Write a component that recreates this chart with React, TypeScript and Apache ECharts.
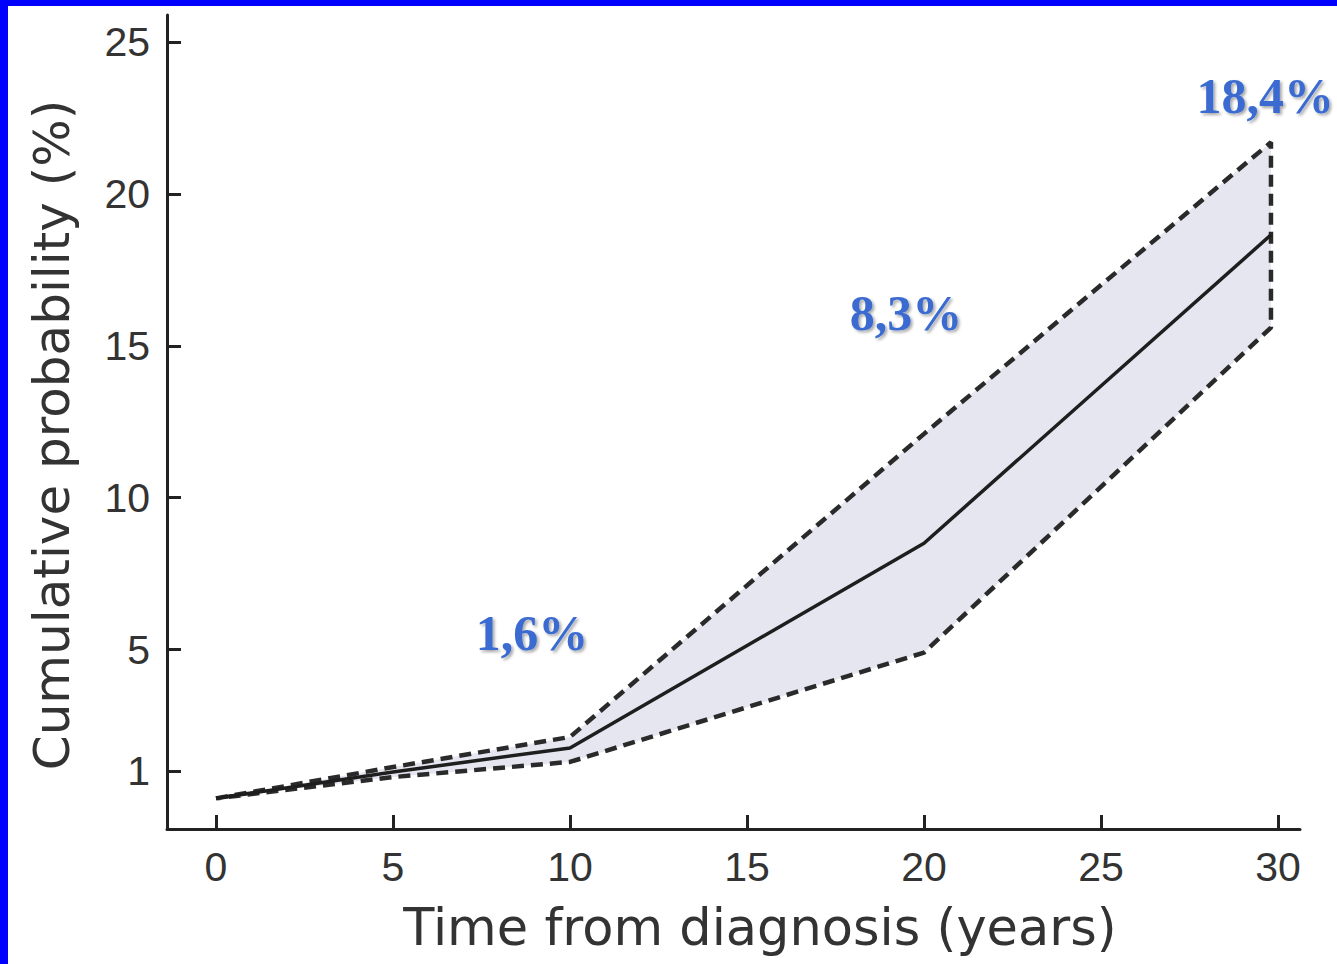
import React, { useEffect, useRef } from "react";
import * as echarts from "echarts";

// Data
const years = [0, 5, 10, 20, 29.8];
const central = [0.1, 0.97, 1.76, 8.5, 18.65];
const upper = [0.1, 1.13, 2.12, 12.1, 21.7];
const lower = [0.1, 0.8, 1.3, 4.9, 15.6];

const xTicks = [0, 5, 10, 15, 20, 25, 30];
const yTicks = [1, 5, 10, 15, 20, 25];

const annotations = ["1,6%", "8,3%", "18,4%"];

export default function App() {
  const ref = useRef<HTMLDivElement>(null);

  useEffect(() => {
    if (!ref.current) return;
    const chart = echarts.init(ref.current, null, { renderer: "svg" });

    const centralData = years.map((x, i) => [x, central[i]]);
    const upperData = years.map((x, i) => [x, upper[i]]);
    const lowerData = years.map((x, i) => [x, lower[i]]);
    const boundary = [...upperData, ...lowerData.slice().reverse()];

    const annPos = [
      { x: 532, y: 633, align: "center" },
      { x: 906, y: 313, align: "center" },
      { x: 1334, y: 96, align: "right" },
    ];

    const option: any = {
      animation: false,
      backgroundColor: "#ffffff",
      grid: { left: 167, right: 37, top: 15, bottom: 135, containLabel: false },
      xAxis: {
        type: "value",
        min: -1.384,
        max: 30.62,
        axisLine: { show: true, onZero: false, lineStyle: { color: "#222", width: 3 } },
        axisTick: {
          show: true,
          inside: true,
          length: 14,
          customValues: xTicks,
          lineStyle: { color: "#222", width: 3 },
        },
        axisLabel: {
          customValues: xTicks,
          margin: 17,
          color: "#333",
          fontSize: 41,
          fontFamily: "Liberation Sans, Arial, sans-serif",
        },
        splitLine: { show: false },
      },
      yAxis: {
        type: "value",
        min: -0.909,
        max: 25.89,
        axisLine: { show: true, onZero: false, lineStyle: { color: "#222", width: 3 } },
        axisTick: {
          show: true,
          inside: true,
          length: 14,
          customValues: yTicks,
          lineStyle: { color: "#222", width: 3 },
        },
        axisLabel: {
          customValues: yTicks,
          margin: 17,
          color: "#333",
          fontSize: 41,
          fontFamily: "Liberation Sans, Arial, sans-serif",
        },
        splitLine: { show: false },
      },
      series: [
        {
          type: "custom",
          z: 1,
          silent: true,
          data: [0],
          renderItem: (params: any, api: any) => {
            const pts = boundary.map((p) => api.coord(p));
            return {
              type: "polygon",
              shape: { points: pts },
              style: { fill: "#e6e6f1", stroke: "none" },
            };
          },
        },
        {
          type: "line",
          z: 3,
          data: boundary,
          showSymbol: false,
          symbol: "none",
          lineStyle: { color: "#2a2a2a", width: 4.5, type: [12, 7] },
        },
        {
          type: "line",
          z: 4,
          data: centralData,
          showSymbol: false,
          symbol: "none",
          lineStyle: { color: "#1e1e1e", width: 3.5 },
        },
      ],
      graphic: [
        { type: "rect", shape: { x: 0, y: 0, width: 8, height: 964 }, style: { fill: "#0000ff" }, z: 100 },
        { type: "rect", shape: { x: 0, y: 0, width: 1337, height: 6 }, style: { fill: "#0000ff" }, z: 100 },
        {
          type: "text",
          x: 760,
          y: 927,
          style: {
            text: "Time from diagnosis (years)",
            font: "51px 'DejaVu Sans', sans-serif",
            fill: "#333",
            textAlign: "center",
            textVerticalAlign: "middle",
          },
        },
        {
          type: "text",
          x: 52,
          y: 435,
          rotation: Math.PI / 2,
          style: {
            text: "Cumulative probability (%)",
            font: "50px 'DejaVu Sans', sans-serif",
            fill: "#333",
            textAlign: "center",
            textVerticalAlign: "middle",
          },
        },
        ...annotations.map((t, i) => ({
          type: "text",
          x: annPos[i].x,
          y: annPos[i].y,
          z: 50,
          style: {
            text: t,
            font: "bold 50px 'Liberation Serif', 'Times New Roman', serif",
            fill: "#3a6bd0",
            textAlign: annPos[i].align,
            textVerticalAlign: "middle",
            textShadowColor: "rgba(0,0,0,0.35)",
            textShadowBlur: 3,
            textShadowOffsetX: 2,
            textShadowOffsetY: 2,
          },
        })),
      ],
    };

    chart.setOption(option);
    return () => chart.dispose();
  }, []);

  return (
    <div
      ref={ref}
      style={{ position: "fixed", left: 0, top: 0, width: 1337, height: 964, background: "#fff" }}
    />
  );
}
